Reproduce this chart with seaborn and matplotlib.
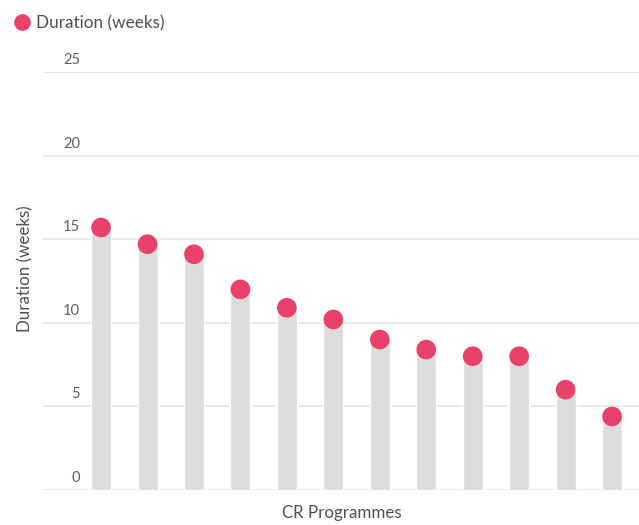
import matplotlib
matplotlib.use("Agg")
import matplotlib.pyplot as plt
import matplotlib.transforms as mtransforms
from matplotlib.lines import Line2D
import seaborn as sns
import pandas as pd

programmes = [f"Programme {i}" for i in range(1, 13)]
durations = [15.7, 14.7, 14.1, 12.0, 10.9, 10.2, 9.0, 8.4, 8.0, 8.0, 6.0, 4.4]
y_ticks = [0, 5, 10, 15, 20, 25]
series_name = "Duration (weeks)"
x_title = "CR Programmes"
y_title = "Duration (weeks)"

sns.set_theme(style="white")
plt.rcParams["font.family"] = ["Lato", "DejaVu Sans"]

TEXT = "#4b4f58"
TICK = "#5a5e68"
BAR = "#dcdcde"
DOT = "#e8426a"
GRID = "#e6e6e6"

df = pd.DataFrame({"programme": programmes, "duration": durations})

fig = plt.figure(figsize=(6.39, 5.25), dpi=100)
ax = fig.add_axes([43 / 639, 35 / 525, 1 - 43 / 639, (490 - 72) / 525])

sns.barplot(data=df, x="programme", y="duration", color=BAR, width=0.43,
            saturation=1, ax=ax, zorder=2)
sns.scatterplot(data=df, x="programme", y="duration", color=DOT, s=200,
                edgecolor="none", ax=ax, zorder=3, clip_on=False)

ax.set_ylim(0, 25)
ax.set_xlim(-1.25, 11.58)
ax.set_yticks(y_ticks)
ax.set_yticklabels([])
ax.set_xticks([])
ax.grid(axis="y", color=GRID, linewidth=1.2, zorder=0)
ax.set_axisbelow(True)
for s in ax.spines.values():
    s.set_visible(False)
ax.tick_params(left=False, bottom=False)
ax.set_xlabel("")
ax.set_ylabel("")

trans = mtransforms.blended_transform_factory(ax.transAxes, ax.transData)
for t in y_ticks:
    ax.text(37 / 596, t + 0.72, str(t), transform=trans, ha="right", va="center",
            fontsize=10.5, color=TICK)

fig.text(342 / 639, 1 - 513 / 525, x_title, ha="center", va="center",
         fontsize=12.2, color=TEXT)
fig.text(25 / 639, 1 - 269 / 525, y_title, ha="center", va="center",
         rotation=90, fontsize=12.2, color=TEXT)

handle = Line2D([], [], marker="o", linestyle="none", markersize=12,
                markerfacecolor=DOT, markeredgecolor="none")
fig.legend([handle], [series_name], loc="center left",
           bbox_to_anchor=(7 / 639, 1 - 23 / 525), frameon=False,
           fontsize=12.3, labelcolor=TEXT, handletextpad=0.3,
           borderaxespad=0, handlelength=1.0)

fig.savefig("out.png", dpi=100)
